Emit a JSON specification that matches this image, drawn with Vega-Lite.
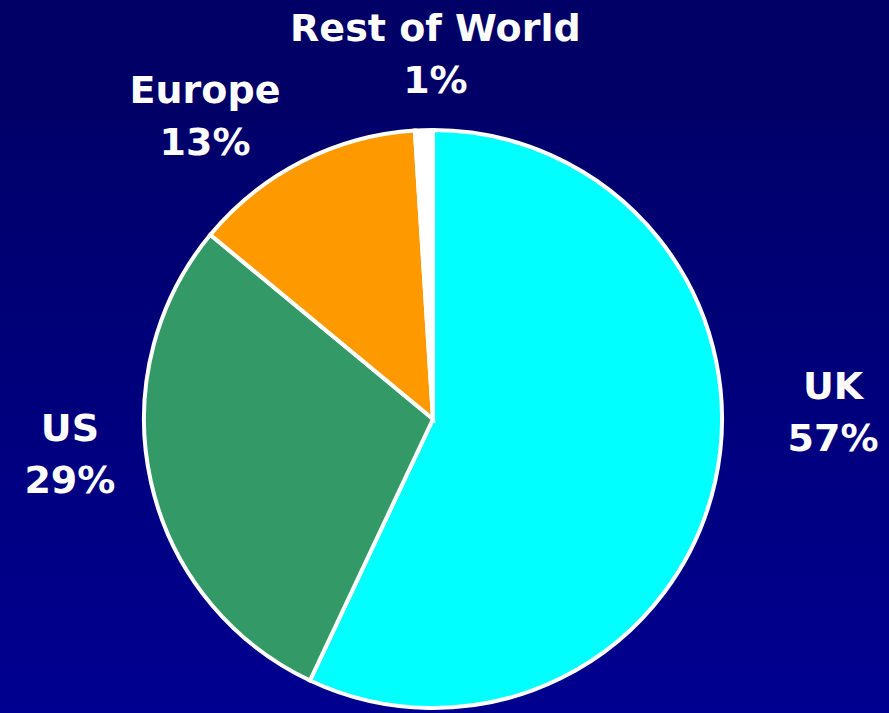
{
  "$schema": "https://vega.github.io/schema/vega-lite/v6.json",
  "width": 912,
  "height": 588,
  "autosize": {"type": "none"},
  "padding": {"left": -23, "top": 125, "right": 0, "bottom": 0},
  "background": "#000066",
  "config": {"view": {"stroke": null}},
  "data": {
    "values": [
      {"Region": "UK", "Share": 57, "Order": 1},
      {"Region": "US", "Share": 29, "Order": 2},
      {"Region": "Europe", "Share": 13, "Order": 3},
      {"Region": "Rest of World", "Share": 1, "Order": 4}
    ]
  },
  "transform": [
    {"calculate": "[datum.Region, datum.Share + '%']", "as": "Label"}
  ],
  "layer": [
    {
      "mark": {
        "type": "rect",
        "fill": {
          "gradient": "linear",
          "x1": 0, "y1": 0, "x2": 0, "y2": 1,
          "stops": [
            {"offset": 0, "color": "#00006B"},
            {"offset": 1, "color": "#000090"}
          ]
        }
      },
      "encoding": {}
    },
    {
      "mark": {"type": "arc", "outerRadius": 289, "stroke": "white", "strokeWidth": 4},
      "encoding": {
        "theta": {"field": "Share", "type": "quantitative", "stack": true},
        "order": {"field": "Order", "type": "quantitative"},
        "color": {
          "field": "Region",
          "type": "nominal",
          "scale": {
            "domain": ["UK", "US", "Europe", "Rest of World"],
            "range": ["#00FFFF", "#339966", "#FF9900", "#FFFFFF"]
          },
          "legend": null
        }
      }
    },
    {
      "mark": {
        "type": "text",
        "radius": 370,
        "font": "DejaVu Sans",
        "fontWeight": "bold",
        "fontSize": 38,
        "lineHeight": 52,
        "fill": "white",
        "align": "center",
        "baseline": "middle",
        "dx": {"expr": "datum.Region === 'UK' ? 39 : datum.Region === 'US' ? -2 : datum.Region === 'Europe' ? -60 : 14"},
        "dy": {"expr": "datum.Region === 'UK' ? -112 : datum.Region === 'US' ? -70 : datum.Region === 'Europe' ? 3 : -19"}
      },
      "encoding": {
        "theta": {"field": "Share", "type": "quantitative", "stack": true},
        "order": {"field": "Order", "type": "quantitative"},
        "text": {"field": "Label"}
      }
    }
  ]
}
